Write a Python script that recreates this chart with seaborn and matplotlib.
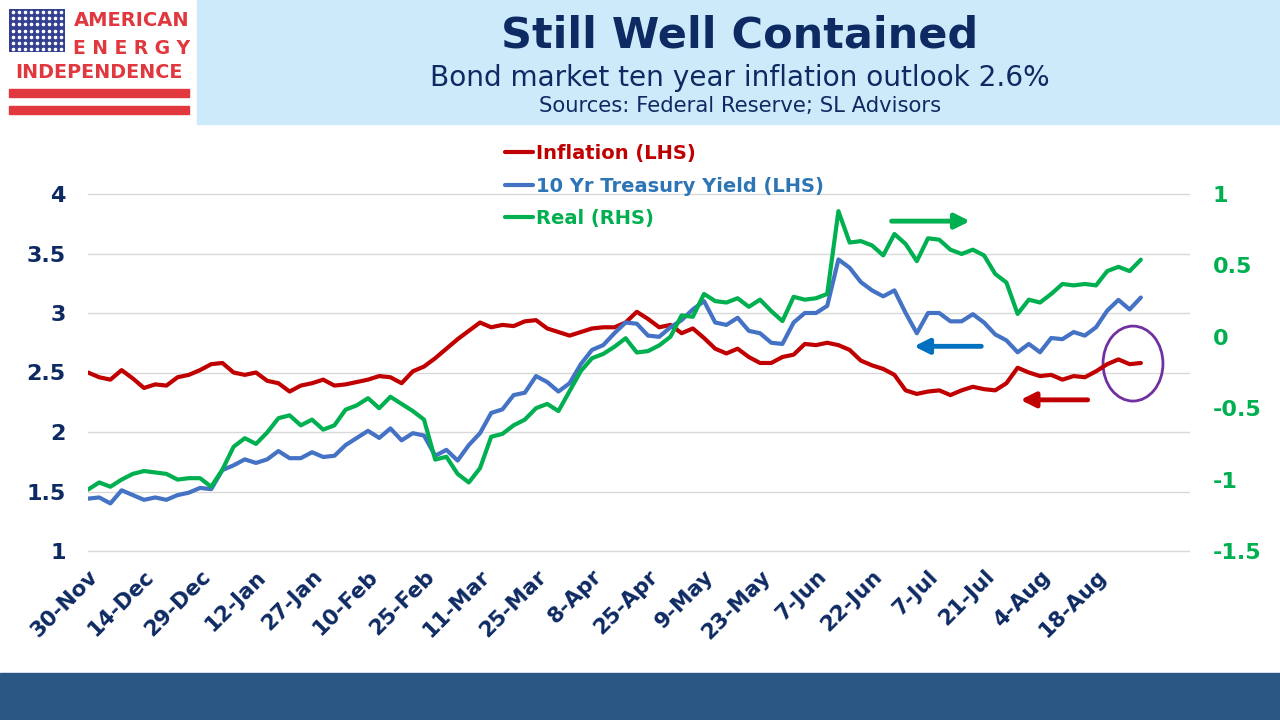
import numpy as np
import pandas as pd
import matplotlib
matplotlib.use('Agg')
import matplotlib.pyplot as plt
import seaborn as sns
from matplotlib.patches import Rectangle, Ellipse
from matplotlib.lines import Line2D
from matplotlib.ticker import FuncFormatter

# values, every second trading day from 30-Nov
inflation = [2.50, 2.46, 2.44, 2.52, 2.45, 2.37, 2.40, 2.39, 2.46, 2.48,
             2.52, 2.57, 2.58, 2.50, 2.48, 2.50, 2.43, 2.41, 2.34, 2.39,
             2.41, 2.44, 2.39, 2.40, 2.42, 2.44, 2.47, 2.46, 2.41, 2.51,
             2.55, 2.62, 2.70, 2.78, 2.85, 2.92, 2.88, 2.90, 2.89, 2.93,
             2.94, 2.87, 2.84, 2.81, 2.84, 2.87, 2.88, 2.88, 2.92, 3.01,
             2.95, 2.88, 2.90, 2.83, 2.87, 2.79, 2.70, 2.66, 2.70, 2.63,
             2.58, 2.58, 2.63, 2.65, 2.74, 2.73, 2.75, 2.73, 2.69, 2.60,
             2.56, 2.53, 2.48, 2.35, 2.32, 2.34, 2.35, 2.31, 2.35, 2.38,
             2.36, 2.35, 2.41, 2.54, 2.50, 2.47, 2.48, 2.44, 2.47, 2.46,
             2.51, 2.57, 2.61, 2.57, 2.58]
treasury = [1.44, 1.45, 1.40, 1.51, 1.47, 1.43, 1.45, 1.43, 1.47, 1.49,
            1.53, 1.52, 1.68, 1.72, 1.77, 1.74, 1.77, 1.84, 1.78, 1.78,
            1.83, 1.79, 1.80, 1.89, 1.95, 2.01, 1.95, 2.03, 1.93, 1.99,
            1.97, 1.80, 1.85, 1.76, 1.89, 1.99, 2.16, 2.19, 2.31, 2.33,
            2.47, 2.42, 2.34, 2.41, 2.57, 2.69, 2.73, 2.83, 2.92, 2.91,
            2.81, 2.80, 2.88, 2.94, 3.03, 3.10, 2.92, 2.90, 2.96, 2.85,
            2.83, 2.75, 2.74, 2.92, 3.00, 3.00, 3.06, 3.45, 3.38, 3.26,
            3.19, 3.14, 3.19, 3.00, 2.83, 3.00, 3.00, 2.93, 2.93, 2.99,
            2.92, 2.82, 2.77, 2.67, 2.74, 2.67, 2.79, 2.78, 2.84, 2.81,
            2.88, 3.02, 3.11, 3.03, 3.13]
real = [-1.07, -1.02, -1.05, -1.00, -0.96, -0.94, -0.95, -0.96, -1.00, -0.99,
        -0.99, -1.05, -0.93, -0.77, -0.71, -0.75, -0.67, -0.57, -0.55, -0.62,
        -0.58, -0.65, -0.62, -0.51, -0.48, -0.43, -0.50, -0.42, -0.47, -0.52,
        -0.58, -0.86, -0.84, -0.96, -1.02, -0.92, -0.70, -0.68, -0.62, -0.58,
        -0.50, -0.47, -0.52, -0.38, -0.24, -0.15, -0.12, -0.07, -0.01, -0.11,
        -0.10, -0.06, 0.00, 0.15, 0.14, 0.30, 0.25, 0.24, 0.27, 0.21,
        0.26, 0.18, 0.11, 0.28, 0.26, 0.27, 0.30, 0.88, 0.66, 0.67,
        0.64, 0.57, 0.72, 0.65, 0.53, 0.69, 0.68, 0.61, 0.58, 0.61,
        0.57, 0.44, 0.38, 0.16, 0.26, 0.24, 0.30, 0.37, 0.36, 0.37,
        0.36, 0.46, 0.49, 0.46, 0.54]
tick_labels = ['30-Nov', '14-Dec', '29-Dec', '12-Jan', '27-Jan', '10-Feb', '25-Feb',
               '11-Mar', '25-Mar', '8-Apr', '25-Apr', '9-May', '23-May', '7-Jun',
               '22-Jun', '7-Jul', '21-Jul', '4-Aug', '18-Aug']

RED = '#C00000'
BLUE = '#4472C4'
GREEN = '#00B050'
NAVY = '#0E2A62'

df = pd.DataFrame({'day': np.arange(len(inflation)) * 2,
                   'Inflation': inflation, 'Treasury': treasury, 'Real': real})

sns.set_style('white')
plt.rcParams['font.family'] = ['DejaVu Sans']

fig = plt.figure(figsize=(12.8, 7.2), dpi=100)

def fx(x):
    return x / 1280

def fy(y):
    return 1 - y / 720

# header band, bottom band
fig.add_artist(Rectangle((fx(197), fy(124)), 1 - fx(197), 124 / 720,
                         transform=fig.transFigure, color='#CDEAFB', zorder=0))
fig.add_artist(Rectangle((0, 0), 1, 47 / 720, transform=fig.transFigure,
                         color='#2B5784', zorder=0))

# logo
logo = fig.add_axes([fx(9), fy(52), 56 / 1280, 43 / 720])
logo.add_patch(Rectangle((0, 0), 1, 1, color='#33408F'))
gx, gy = np.meshgrid(np.linspace(0.07, 0.93, 9), np.linspace(0.08, 0.92, 7))
logo.scatter(gx.ravel(), gy.ravel(), s=2.5, color='white')
logo.set_xlim(0, 1)
logo.set_ylim(0, 1)
logo.axis('off')
LOGO_RED = '#E0383E'
fig.text(fx(132), fy(21), 'AMERICAN', color=LOGO_RED, fontsize=14,
         fontweight='bold', ha='center', va='center')
fig.text(fx(132), fy(48), 'E N E R G Y', color=LOGO_RED, fontsize=13.5,
         fontweight='bold', ha='center', va='center')
fig.text(fx(99), fy(72), 'INDEPENDENCE', color=LOGO_RED, fontsize=13.8,
         fontweight='bold', ha='center', va='center')
for top in (89, 106):
    fig.add_artist(Rectangle((fx(9), fy(top + 8)), 180 / 1280, 8 / 720,
                             transform=fig.transFigure, color=LOGO_RED))

# titles
fig.text(fx(740), fy(35), 'Still Well Contained', color=NAVY, fontsize=31,
         fontweight='bold', ha='center', va='center')
fig.text(fx(740), fy(78), 'Bond market ten year inflation outlook 2.6%',
         color=NAVY, fontsize=20.2, ha='center', va='center')
fig.text(fx(740), fy(106), 'Sources: Federal Reserve; SL Advisors',
         color=NAVY, fontsize=15.2, ha='center', va='center')

# main chart
ax = fig.add_axes([fx(88), fy(551), 1101 / 1280, 357 / 720])
ax2 = ax.twinx()

sns.lineplot(data=df, x='day', y='Inflation', ax=ax, color=RED, lw=3)
sns.lineplot(data=df, x='day', y='Treasury', ax=ax, color=BLUE, lw=3)
sns.lineplot(data=df, x='day', y='Real', ax=ax2, color=GREEN, lw=3)

ax.set_xlim(0, 196.6)
ax.set_ylim(1, 4)
ax2.set_ylim(-1.5, 1)
ax.set_xlabel('')
ax.set_ylabel('')
ax2.set_ylabel('')

fmt = FuncFormatter(lambda v, p: '{:g}'.format(round(v, 2)))
ax.set_yticks(np.arange(1, 4.01, 0.5))
ax.yaxis.set_major_formatter(fmt)
ax2.set_yticks(np.arange(-1.5, 1.01, 0.5))
ax2.yaxis.set_major_formatter(fmt)

ax.set_xticks(np.arange(0, 181, 10))
ax.set_xticklabels(tick_labels, rotation=45, ha='right', rotation_mode='anchor')

ax.tick_params(axis='y', length=0, pad=16, labelsize=16, labelcolor=NAVY)
ax2.tick_params(axis='y', length=0, pad=17, labelsize=16, labelcolor=GREEN)
ax.tick_params(axis='x', length=0, pad=11, labelsize=15.5, labelcolor=NAVY)
for lab in ax.get_yticklabels() + ax2.get_yticklabels() + ax.get_xticklabels():
    lab.set_fontweight('bold')

ax.yaxis.grid(True, color='#D9D9D9', lw=1)
for gl in ax.get_ygridlines():
    gl.set_clip_on(False)
ax.xaxis.grid(False)
ax2.grid(False)
for a in (ax, ax2):
    for s in a.spines.values():
        s.set_visible(False)
    a.set_facecolor('none')

# arrows and circle
ax2.annotate('', xy=(158, 0.81), xytext=(143, 0.81),
             arrowprops=dict(arrowstyle='-|>', color=GREEN, lw=3.5, mutation_scale=22))
ax.annotate('', xy=(147, 2.72), xytext=(160, 2.72),
            arrowprops=dict(arrowstyle='-|>', color='#0070C0', lw=3.5, mutation_scale=22))
ax.annotate('', xy=(166, 2.27), xytext=(179, 2.27),
            arrowprops=dict(arrowstyle='-|>', color=RED, lw=3.5, mutation_scale=22))
ax.add_patch(Ellipse((186.6, 2.575), 10.7, 0.63, fill=False,
                     edgecolor='#7030A0', lw=2, clip_on=False))

# legend
handles = [Line2D([], [], color=RED, lw=3),
           Line2D([], [], color=BLUE, lw=3),
           Line2D([], [], color=GREEN, lw=3)]
labels = ['Inflation (LHS)', '10 Yr Treasury Yield (LHS)', 'Real (RHS)']
leg = fig.legend(handles, labels, loc='upper left', bbox_to_anchor=(fx(505), fy(144)),
                 frameon=False, handlelength=1.45, handletextpad=0.15,
                 labelspacing=0.7, borderpad=0, borderaxespad=0,
                 prop={'weight': 'bold', 'size': 14})
for txt, c in zip(leg.get_texts(), [RED, '#2E75B6', GREEN]):
    txt.set_color(c)

fig.savefig('out.png', dpi=100)
